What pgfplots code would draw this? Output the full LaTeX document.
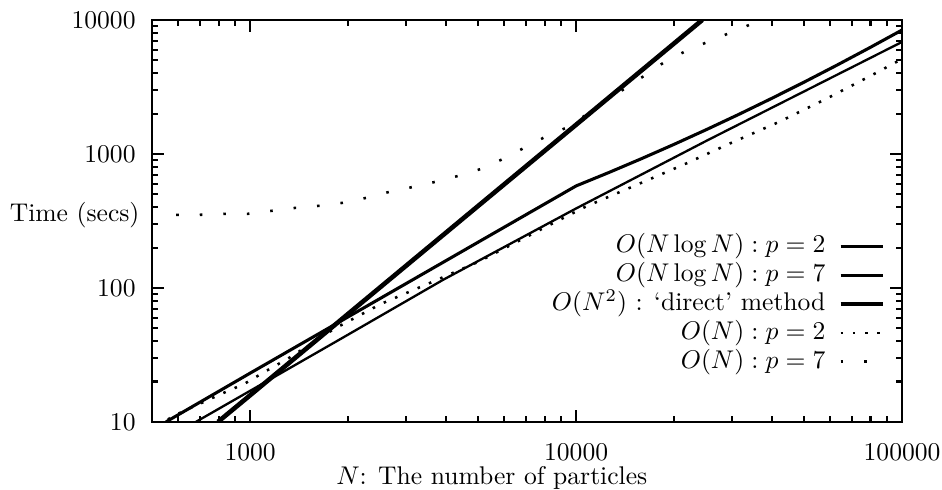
\documentclass[border=0pt]{standalone}
\usepackage{pgfplots}
\pgfplotsset{compat=1.18}
\pgfplotstableread{
N T
552 10
1000 23.1
10000 577
12589 725.5
15849 920.3
19953 1177
25119 1519.6
31623 1978
39811 2597
50119 3440
63096 4596
79433 6192
100000 8414
}\nlognA
\pgfplotstableread{
N T
682 10
1941 43.0
3907 114.8
10000 391.7
25400 1271
100000 6857
}\nlognB
\pgfplotstableread{
N T
797 10
1000 15.8
2000 64.1
5000 408
10000 1652
20000 6696
24380 10000
}\direct
\pgfplotstableread{
N T
560 10.4
573 10.9
803 15.9
959 19.2
1120 24.0
1317 30.0
1810 49.4
2522 76.0
3565 109.0
5005 156.3
7645 266.3
10656 402.2
15065 577.0
21290 827.9
29890 1208
41950 1733
59290 2618
82080 3954
100000 5117
}\onA
\pgfplotstableread{
N T
593 351
698 351
832 356.6
979 356.6
1160 375.6
1374 395.4
1617 409.3
1915 430.9
2269 469.6
2669 520.4
3162 567.2
3694 618.1
4346 685.1
5112 773.0
5972 917.6
6926 1108.7
8034 1339.4
9451 1590.4
14336 3162
16513 3954
18883 4943
22063 5971
25763 6970
30101 8136
35156 9497
41070 10890
}\onB
\begin{document}
\begin{tikzpicture}
\useasboundingbox (-59.4pt,-26.6pt) rectangle (308.6pt,164.8pt);
\begin{axis}[
  at={(0,0)}, anchor=south west,
  scale only axis, width=293pt, height=157pt,
  xmode=log, ymode=log,
  xmin=500, xmax=100000, ymin=10, ymax=10000,
  xtick={1000,10000,100000}, xticklabels={1000,10000,100000},
  ytick={10,100,1000,10000}, yticklabels={10,100,1000,10000},
  minor xtick={600,700,800,900,2000,3000,4000,5000,6000,7000,8000,9000,20000,30000,40000,50000,60000,70000,80000,90000},
  minor ytick={20,30,40,50,60,70,80,90,200,300,400,500,600,700,800,900,2000,3000,4000,5000,6000,7000,8000,9000},
  tick align=inside,
  major tick length=4.7pt, minor tick length=2.2pt,
  tick style={black, line width=0.8pt},
  axis line style={line width=0.8pt},
  xticklabel style={yshift=-4.9pt},
  yticklabel style={xshift=-2.9pt},
  xlabel={$N$: The number of particles},
  ylabel={Time (secs)},
  every axis x label/.style={at={(rel axis cs:0.453,0)}, anchor=base, yshift=-24.6pt},
  every axis y label/.style={at={(rel axis cs:0,0.515)}, anchor=east, xshift=-1.4pt},
  legend plot pos=right,
  legend cell align=right,
  legend image code/.code={\path (0pt,0pt); \draw[#1] (5pt,0pt) -- (21.4pt,0pt);},
  legend style={draw=none, fill=none, at={(rel axis cs:0.977,0.468)}, anchor=north east,
    inner sep=0pt, outer sep=0pt, column sep=0pt, row sep=1.25pt,
    nodes={inner sep=0pt, text height=7.5pt, text depth=2.5pt}},
]
\addplot[black, line width=1.2pt] table[x=N,y=T] {\nlognA};
\addlegendentry{$O(N\log N) : p = 2$}
\addplot[black, line width=0.9pt] table[x=N,y=T] {\nlognB};
\addlegendentry{$O(N\log N) : p = 7$}
\addplot[black, line width=1.8pt] table[x=N,y=T] {\direct};
\addlegendentry{$O(N^2)$ : `direct' method}
\addplot[black, line width=1pt, dash pattern=on 1pt off 3.8pt] table[x=N,y=T] {\onA};
\addlegendentry{$O(N) : p = 2$}
\addplot[black, line width=1pt, dash pattern=on 1pt off 8.2pt] table[x=N,y=T] {\onB};
\addlegendentry{$O(N) : p = 7$}
\end{axis}
\end{tikzpicture}
\end{document}
